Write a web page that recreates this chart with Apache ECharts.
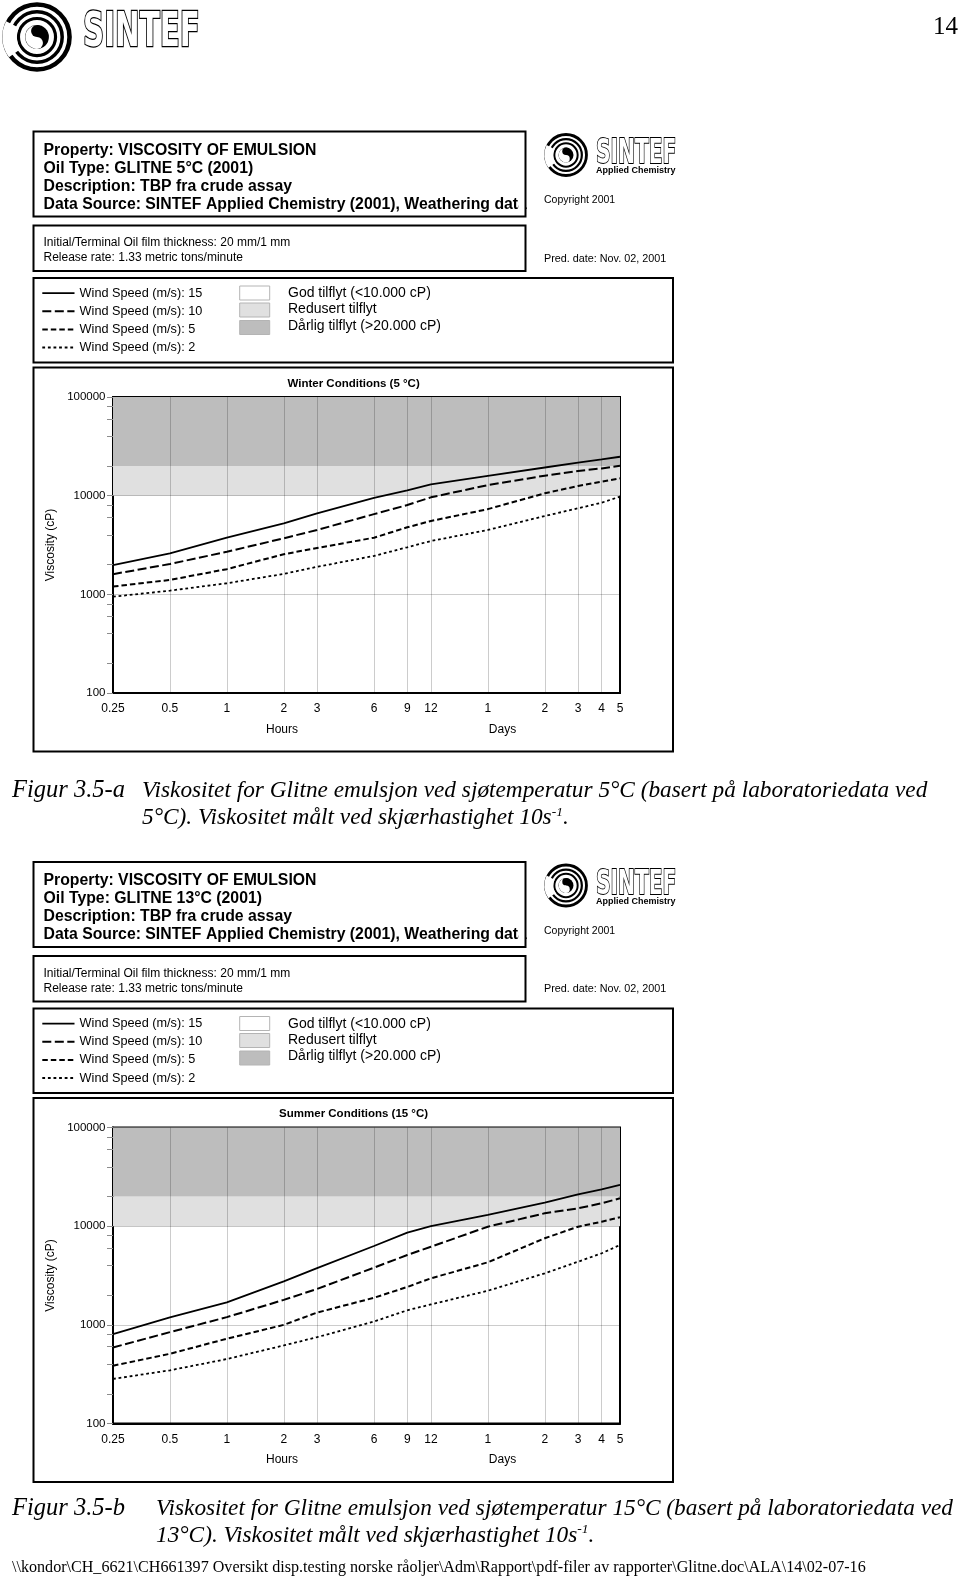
<!DOCTYPE html>
<html>
<head>
<meta charset="utf-8">
<script src="https://cdn.jsdelivr.net/npm/echarts@6/dist/echarts.min.js"></script>
<style>
html,body{margin:0;padding:0;background:#fff;}
#c{width:960px;height:1579px;}
</style>
</head>
<body>
<div id="c"></div>
<script>
// ---------------- DATA ----------------
const hours = [0.25, 0.5, 1, 2, 3, 6, 9, 12, 24, 48, 72, 96, 120];
const hourLabels = ['0.25', '0.5', '1', '2', '3', '6', '9', '12', '1', '2', '3', '4', '5'];
const yLabelValues = [100, 1000, 10000, 100000];
const yTickValues = [100, 200, 400, 600, 800, 1000, 2000, 4000, 6000, 8000, 10000, 20000, 40000, 60000, 80000, 100000];
const gridLineHours = [0.5, 1, 2, 3, 6, 9, 12, 24, 48, 72, 96];
const gridLineViscosity = [1000, 10000];
const windSpeeds = [15, 10, 5, 2];

const winter15 = [1980, 2600, 3750, 5250, 6600, 9500, 11300, 13000, 15900, 19300, 21600, 23300, 24800];
const winter10 = [1600, 2030, 2700, 3700, 4490, 6500, 8040, 9620, 12800, 15950, 17800, 18900, 20100];
const winter5  = [1200, 1400, 1800, 2550, 2950, 3750, 4780, 5540, 7300, 10570, 12530, 13870, 15000];
const winter2  = [946, 1090, 1295, 1610, 1900, 2450, 3000, 3470, 4490, 6220, 7450, 8490, 9770];

const summer15 = [805, 1190, 1690, 2760, 3750, 6300, 8590, 10000, 12980, 17300, 21000, 23640, 26150];
const summer10 = [590, 843, 1197, 1790, 2310, 3800, 5100, 6190, 9880, 13500, 15170, 17060, 19150];
const summer5  = [385, 509, 723, 1000, 1330, 1880, 2420, 2960, 4300, 7540, 9880, 11100, 12300];
const summer2  = [283, 346, 450, 618, 750, 1080, 1405, 1610, 2215, 3330, 4360, 5310, 6450];

const bandReduced = [10000, 20000];
const bandPoor = [20000, 100000];
const bandNames = ['God tilflyt (<10.000 cP)', 'Redusert tilflyt', 'Dårlig tilflyt (>20.000 cP)'];

const chartTitles = ['Winter Conditions (5 °C)', 'Summer Conditions (15 °C)'];
const oilTypes = ['Oil Type: GLITNE 5°C (2001)', 'Oil Type: GLITNE 13°C (2001)'];
const headerCommon = ['Property: VISCOSITY OF EMULSION', 'Description: TBP fra crude assay', 'Data Source: SINTEF Applied Chemistry (2001), Weathering data'];
const infoLines = ['Initial/Terminal Oil film thickness: 20 mm/1 mm', 'Release rate: 1.33 metric tons/minute'];
const captionLabels = ['Figur 3.5-a', 'Figur 3.5-b'];
const captionLine1 = [
  'Viskositet for Glitne emulsjon ved sjøtemperatur 5°C (basert på laboratoriedata ved',
  'Viskositet for Glitne emulsjon ved sjøtemperatur 15°C (basert på laboratoriedata ved'
];
const captionLine2 = ['5°C). Viskositet målt ved skjærhastighet 10s', '13°C). Viskositet målt ved skjærhastighet 10s'];
const footerText = '\\\\kondor\\CH_6621\\CH661397 Oversikt disp.testing norske råoljer\\Adm\\Rapport\\pdf-filer av rapporter\\Glitne.doc\\ALA\\14\\02-07-16';

// ---------------- STYLE ----------------
const SANS = '"Liberation Sans", Arial, sans-serif';
const SERIF = '"Liberation Serif", "Times New Roman", serif';
const lineStyles = [
  { type: 'solid', width: 1.8 },
  { type: [9, 3.5], width: 2 },
  { type: [5.5, 3], width: 2 },
  { type: [2.8, 2.8], width: 1.8 }
];
const BLOCK_DY = 730.5;

function labelFor(v) {
  for (let i = 0; i < hours.length; i++) {
    if (Math.abs(hours[i] - v) / hours[i] < 1e-4) return hourLabels[i];
  }
  return '';
}

function txt(x, y, text, o) {
  return {
    type: 'text', x: x, y: y, silent: true,
    style: Object.assign({
      text: text, fill: '#000', fontFamily: SANS, fontSize: 12,
      align: 'left', verticalAlign: 'middle', textAlign: 'left', textVerticalAlign: 'middle'
    }, o || {})
  };
}
function rect(x, y, w, h, o) {
  return { type: 'rect', silent: true, shape: { x: x, y: y, width: w, height: h },
    style: Object.assign({ fill: 'none', stroke: '#000', lineWidth: 2 }, o || {}) };
}
function ringLogo(cx, cy, r) {
  const r0 = r * 0.34;
  return {
    type: 'group', x: cx, y: cy, silent: true,
    children: [
      { type: 'circle', shape: { cx: 0, cy: 0, r: r * 0.93 }, style: { fill: 'none', stroke: '#000', lineWidth: r * 0.13 } },
      { type: 'circle', shape: { cx: 0, cy: 0, r: r * 0.72 }, style: { fill: 'none', stroke: '#000', lineWidth: r * 0.1 } },
      { type: 'circle', shape: { cx: 0, cy: 0, r: r * 0.53 }, style: { fill: 'none', stroke: '#000', lineWidth: r * 0.09 } },
      { type: 'circle', shape: { cx: 0, cy: 0, r: r0 }, style: { fill: '#000' } },
      { type: 'sector', shape: { cx: 0, cy: 0, r0: 0, r: r0 * 0.98, startAngle: Math.PI / 2, endAngle: Math.PI * 1.5 }, style: { fill: '#fff' } },
      { type: 'circle', shape: { cx: 0, cy: -r0 / 2, r: r0 / 2 }, style: { fill: '#000' } },
      { type: 'circle', shape: { cx: 0, cy: r0 / 2, r: r0 / 2 }, style: { fill: '#fff' } },
      { type: 'sector', shape: { cx: 0, cy: 0, r0: r * 0.58, r: r * 0.99, startAngle: Math.PI * 0.8, endAngle: Math.PI * 1.15 }, style: { fill: '#fff' } }
    ]
  };
}
function logoWord(x, y, fs, sx, lw) {
  return {
    type: 'text', x: x, y: y, scaleX: sx, silent: true,
    style: { text: 'SINTEF', fontFamily: '"DejaVu Sans Condensed", "DejaVu Sans", sans-serif', fontWeight: 'bold',
      fontSize: fs, fill: '#fff', stroke: '#000', lineWidth: lw,
      align: 'left', verticalAlign: 'middle', textAlign: 'left', textVerticalAlign: 'middle' }
  };
}

// ---------------- GRAPHICS ----------------
const G = [];
// page header
G.push(ringLogo(37, 37, 35));
G.push(logoWord(83, 34, 48, 0.68, 2.4));
G.push(txt(958, 27, '14', { fontFamily: SERIF, fontSize: 25, align: 'right', textAlign: 'right' }));

for (let b = 0; b < 2; b++) {
  const dy = b * BLOCK_DY;
  // header box 1
  const hl = [headerCommon[0], oilTypes[b], headerCommon[1], headerCommon[2]];
  const hy = [150.6, 168.6, 186.6, 204.6];
  hl.forEach(function (t, i) { G.push(txt(43.5, hy[i] + dy, t, { fontSize: 15.8, fontWeight: 'bold' })); });
  G.push(rect(518.5, 192 + dy, 7, 22, { fill: '#fff', stroke: 'none', lineWidth: 0 }));
  G.push(rect(33.5, 131.5 + dy, 492, 85));
  // header box 2
  G.push(txt(43.5, 242.8 + dy, infoLines[0], { fontSize: 12 }));
  G.push(txt(43.5, 257.9 + dy, infoLines[1], { fontSize: 12 }));
  G.push(rect(33.5, 225.5 + dy, 492, 45.5));
  // right logo
  G.push(ringLogo(566, 155 + dy, 22));
  G.push(logoWord(596, 154.5 + dy, 34, 0.66, 1.8));
  G.push(txt(596, 171 + dy, 'Applied Chemistry', { fontSize: 9, fontWeight: 'bold' }));
  G.push(txt(544, 200.5 + dy, 'Copyright 2001', { fontSize: 10.5 }));
  G.push(txt(544, 259 + dy, 'Pred. date: Nov. 02, 2001', { fontSize: 10.8 }));
  // legend box
  G.push(rect(33.5, 278 + dy, 639.5, 84.5));
  const rowY = [293.1, 311.3, 329.4, 347.5];
  windSpeeds.forEach(function (w, i) {
    const ls = lineStyles[i];
    G.push({ type: 'line', silent: true, shape: { x1: 42.3, y1: rowY[i] + dy, x2: 74.5, y2: rowY[i] + dy },
      style: { stroke: '#000', lineWidth: ls.width, lineDash: ls.type === 'solid' ? null : ls.type } });
    G.push(txt(79.6, rowY[i] + dy, 'Wind Speed (m/s): ' + w, { fontSize: 12.7 }));
  });
  const swY = [286, 303, 320.5];
  const swC = ['#ffffff', '#e0e0e0', '#bdbdbd'];
  const swT = [293.3, 309.5, 326];
  bandNames.forEach(function (n, i) {
    G.push(rect(239.7, swY[i] + dy, 30, 14, { fill: swC[i], stroke: '#b4b4b4', lineWidth: 1 }));
    G.push(txt(288, swT[i] + dy, n, { fontSize: 14 }));
  });
  // chart box
  G.push(rect(33.5, 367.5 + dy, 639.5, 384));
  G.push(txt(353.6, 383.8 + dy, chartTitles[b], { fontSize: 11.5, fontWeight: 'bold', align: 'center', textAlign: 'center' }));
  G.push(txt(282, 729.5 + dy, 'Hours', { fontSize: 12, align: 'center', textAlign: 'center' }));
  G.push(txt(502.5, 729.5 + dy, 'Days', { fontSize: 12, align: 'center', textAlign: 'center' }));
}
// captions
const capY = [[791, 818], [1509, 1535.5]];
const capX = [142, 156];
for (let b = 0; b < 2; b++) {
  G.push(txt(12, capY[b][0], captionLabels[b], { fontFamily: SERIF, fontStyle: 'italic', fontSize: 24.5 }));
  G.push(txt(capX[b], capY[b][0], captionLine1[b], { fontFamily: SERIF, fontStyle: 'italic', fontSize: 23.3 }));
  G.push({
    type: 'text', x: capX[b], y: capY[b][1], silent: true,
    style: {
      text: '{n|' + captionLine2[b] + '}{s|-1}{n|.}',
      align: 'left', verticalAlign: 'middle', textAlign: 'left', textVerticalAlign: 'middle',
      rich: {
        n: { fontFamily: SERIF, fontStyle: 'italic', fontSize: 23.3, lineHeight: 26, fill: '#000', color: '#000' },
        s: { fontFamily: SERIF, fontStyle: 'italic', fontSize: 13.5, lineHeight: 13, verticalAlign: 'top', fill: '#000', color: '#000' }
      }
    }
  });
}
G.push(txt(12, 1568, footerText, { fontFamily: SERIF, fontSize: 16.1 }));

// ---------------- CHART ----------------
const seriesData = [[winter15, winter10, winter5, winter2], [summer15, summer10, summer5, summer2]];
const grids = [], xAxes = [], yAxes = [], series = [];
for (let b = 0; b < 2; b++) {
  const dy = b * BLOCK_DY;
  grids.push({ left: 113, top: 397 + dy, width: 507, height: 296, show: true, borderColor: '#000', borderWidth: 2,
    backgroundColor: 'transparent', containLabel: false, outerBoundsMode: 'none' });
  xAxes.push({
    type: 'log', logBase: 10, gridIndex: b, min: hours[0], max: hours[hours.length - 1],
    axisLine: { show: true, onZero: false, lineStyle: { color: '#000', width: 2 } },
    axisTick: { show: false },
    splitLine: { show: false }, minorTick: { show: false }, minorSplitLine: { show: false },
    axisLabel: { customValues: hours, formatter: labelFor, color: '#000', fontSize: 12, margin: 10, fontFamily: SANS,
      showMinLabel: true, showMaxLabel: true, hideOverlap: false }
  });
  yAxes.push({
    type: 'log', logBase: 10, gridIndex: b, min: yLabelValues[0], max: yLabelValues[yLabelValues.length - 1],
    name: 'Viscosity (cP)', nameLocation: 'middle', nameGap: 53, nameRotate: 90,
    nameTextStyle: { fontSize: 12, color: '#000', fontFamily: SANS },
    axisLine: { show: true, onZero: false, lineStyle: { color: '#000', width: 2 } },
    axisTick: { show: true, length: 6, customValues: yTickValues, lineStyle: { color: '#8c8c8c', width: 1 } },
    axisLabel: { customValues: yLabelValues, formatter: function (v) { return String(Math.round(v)); },
      color: '#000', fontSize: 11.5, margin: 7.5, fontFamily: SANS, showMinLabel: true, showMaxLabel: true },
    splitLine: { show: false }, minorTick: { show: false }, minorSplitLine: { show: false }
  });
  series.push({
    type: 'line', name: 'bands' + b, xAxisIndex: b, yAxisIndex: b, data: [], z: -2, silent: true,
    markArea: { silent: true, label: { show: false },
      data: [
        [{ yAxis: bandReduced[0], itemStyle: { color: '#e0e0e0' } }, { yAxis: bandReduced[1] }],
        [{ yAxis: bandPoor[0], itemStyle: { color: '#bdbdbd' } }, { yAxis: bandPoor[1] }]
      ] }
  });
  series.push({
    type: 'line', name: 'gridlines' + b, xAxisIndex: b, yAxisIndex: b, data: [], z: -1, silent: true,
    markLine: { silent: true, symbol: ['none', 'none'], label: { show: false },
      lineStyle: { color: 'rgba(0,0,0,0.2)', width: 1, type: 'solid' },
      emphasis: { disabled: true },
      data: gridLineHours.map(function (h) { return { xAxis: h }; })
        .concat(gridLineViscosity.map(function (v) { return { yAxis: v }; })) }
  });
  seriesData[b].forEach(function (vals, k) {
    series.push({
      type: 'line', name: 'Wind Speed (m/s): ' + windSpeeds[k], xAxisIndex: b, yAxisIndex: b, z: 3, silent: true,
      data: hours.map(function (h, j) { return [h, vals[j]]; }),
      symbol: 'none', showSymbol: false,
      lineStyle: { color: '#000', width: lineStyles[k].width, type: lineStyles[k].type },
      emphasis: { disabled: true }
    });
  });
}

const chart = echarts.init(document.getElementById('c'));
chart.setOption({
  animation: false,
  backgroundColor: '#fff',
  textStyle: { fontFamily: SANS },
  grid: grids, xAxis: xAxes, yAxis: yAxes, series: series,
  graphic: { elements: G }
});
</script>
</body>
</html>
